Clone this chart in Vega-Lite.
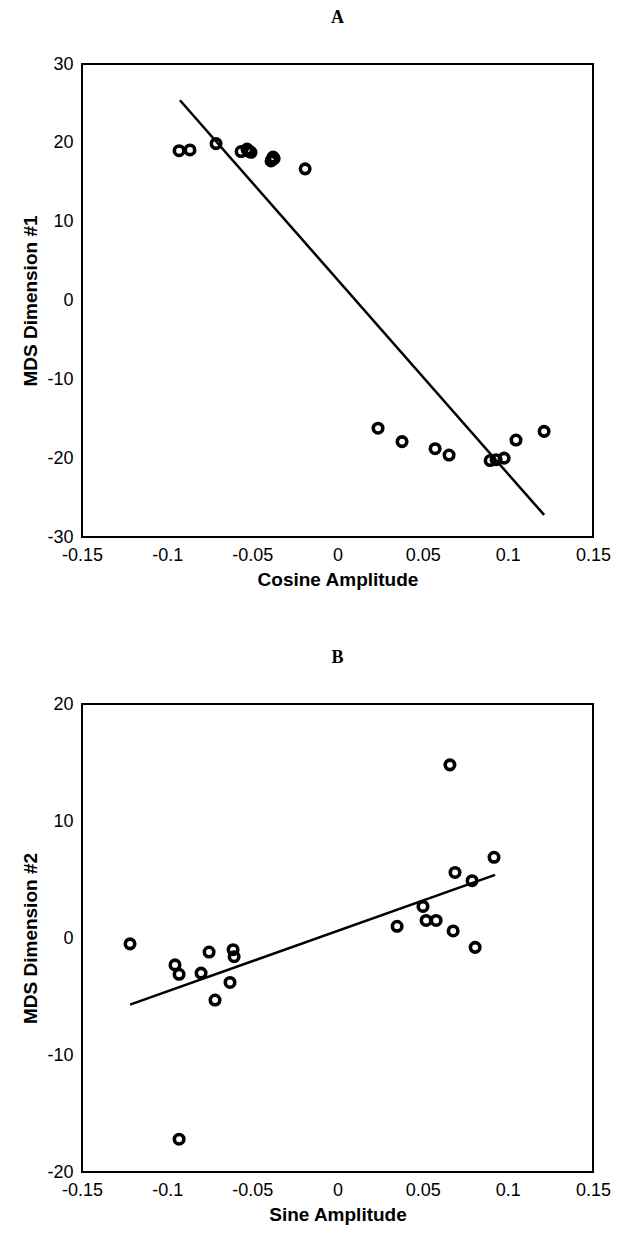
{
  "$schema": "https://vega.github.io/schema/vega-lite/v6.json",
  "padding": {"left": 20, "top": 8, "right": 10, "bottom": 6},
  "background": "white",
  "spacing": 58,
  "config": {
    "view": {"stroke": "black", "strokeWidth": 2},
    "axis": {
      "domain": false, "ticks": false, "grid": false,
      "labelFont": "Liberation Sans", "labelFontSize": 18, "labelColor": "black",
      "titleFont": "Liberation Sans", "titleFontSize": 19, "titleFontWeight": "bold", "titleColor": "black",
      "labelPadding": 9, "titlePadding": 6, "labelFlush": false, "labelOverlap": false,
      "labelExpr": "toString(datum.value)"
    },
    "title": {"font": "Liberation Serif", "fontSize": 18, "fontWeight": "bold", "color": "black", "offset": 28}
  },
  "datasets": {
    "ptsA": [
      {"amp": -0.093, "dim": 19.0}, {"amp": -0.0866, "dim": 19.1}, {"amp": -0.0713, "dim": 19.9},
      {"amp": -0.0566, "dim": 18.9}, {"amp": -0.0531, "dim": 19.2}, {"amp": -0.0515, "dim": 18.9},
      {"amp": -0.0525, "dim": 19.0}, {"amp": -0.0508, "dim": 18.8}, {"amp": -0.0384, "dim": 17.9},
      {"amp": -0.0378, "dim": 18.2}, {"amp": -0.039, "dim": 17.7}, {"amp": -0.0372, "dim": 18.0},
      {"amp": -0.019, "dim": 16.7}, {"amp": 0.0238, "dim": -16.2}, {"amp": 0.0379, "dim": -17.9},
      {"amp": 0.0573, "dim": -18.8}, {"amp": 0.0655, "dim": -19.6}, {"amp": 0.0896, "dim": -20.3},
      {"amp": 0.0931, "dim": -20.2}, {"amp": 0.0978, "dim": -20.0}, {"amp": 0.1048, "dim": -17.7},
      {"amp": 0.1213, "dim": -16.6}
    ],
    "lineA": [{"amp": -0.0925, "dim": 25.4}, {"amp": 0.1213, "dim": -27.2}],
    "ptsB": [
      {"amp": -0.1218, "dim": -0.5}, {"amp": -0.0954, "dim": -2.3}, {"amp": -0.093, "dim": -3.1},
      {"amp": -0.0801, "dim": -3.0}, {"amp": -0.0754, "dim": -1.2}, {"amp": -0.0719, "dim": -5.3},
      {"amp": -0.0631, "dim": -3.8}, {"amp": -0.0613, "dim": -1.0}, {"amp": -0.0607, "dim": -1.6},
      {"amp": -0.093, "dim": -17.2}, {"amp": 0.035, "dim": 1.0}, {"amp": 0.0502, "dim": 2.7},
      {"amp": 0.052, "dim": 1.5}, {"amp": 0.0579, "dim": 1.5}, {"amp": 0.066, "dim": 14.8},
      {"amp": 0.0679, "dim": 0.6}, {"amp": 0.069, "dim": 5.6}, {"amp": 0.079, "dim": 4.9},
      {"amp": 0.0808, "dim": -0.8}, {"amp": 0.0919, "dim": 6.9}
    ],
    "lineB": [{"amp": -0.1218, "dim": -5.7}, {"amp": 0.0925, "dim": 5.4}]
  },
  "vconcat": [
    {
      "title": {"text": "A"},
      "width": 511, "height": 473,
      "layer": [
        {
          "data": {"name": "lineA"},
          "mark": {"type": "line", "color": "black", "strokeWidth": 2.5},
          "encoding": {
            "x": {"field": "amp", "type": "quantitative", "scale": {"domain": [-0.15, 0.15], "nice": false},
                  "axis": {"title": "Cosine Amplitude", "values": [-0.15, -0.1, -0.05, 0, 0.05, 0.1, 0.15]}},
            "y": {"field": "dim", "type": "quantitative", "scale": {"domain": [-30, 30], "nice": false},
                  "axis": {"title": "MDS Dimension #1", "values": [-30, -20, -10, 0, 10, 20, 30]}}
          }
        },
        {
          "data": {"name": "ptsA"},
          "mark": {"type": "point", "shape": "circle", "filled": false, "stroke": "black", "strokeWidth": 3.6, "size": 90, "opacity": 1},
          "encoding": {
            "x": {"field": "amp", "type": "quantitative"},
            "y": {"field": "dim", "type": "quantitative"}
          }
        }
      ]
    },
    {
      "title": {"text": "B"},
      "width": 511, "height": 468,
      "layer": [
        {
          "data": {"name": "lineB"},
          "mark": {"type": "line", "color": "black", "strokeWidth": 2.5},
          "encoding": {
            "x": {"field": "amp", "type": "quantitative", "scale": {"domain": [-0.15, 0.15], "nice": false},
                  "axis": {"title": "Sine Amplitude", "values": [-0.15, -0.1, -0.05, 0, 0.05, 0.1, 0.15]}},
            "y": {"field": "dim", "type": "quantitative", "scale": {"domain": [-20, 20], "nice": false},
                  "axis": {"title": "MDS Dimension #2", "values": [-20, -10, 0, 10, 20]}}
          }
        },
        {
          "data": {"name": "ptsB"},
          "mark": {"type": "point", "shape": "circle", "filled": false, "stroke": "black", "strokeWidth": 3.6, "size": 90, "opacity": 1},
          "encoding": {
            "x": {"field": "amp", "type": "quantitative"},
            "y": {"field": "dim", "type": "quantitative"}
          }
        }
      ]
    }
  ]
}
